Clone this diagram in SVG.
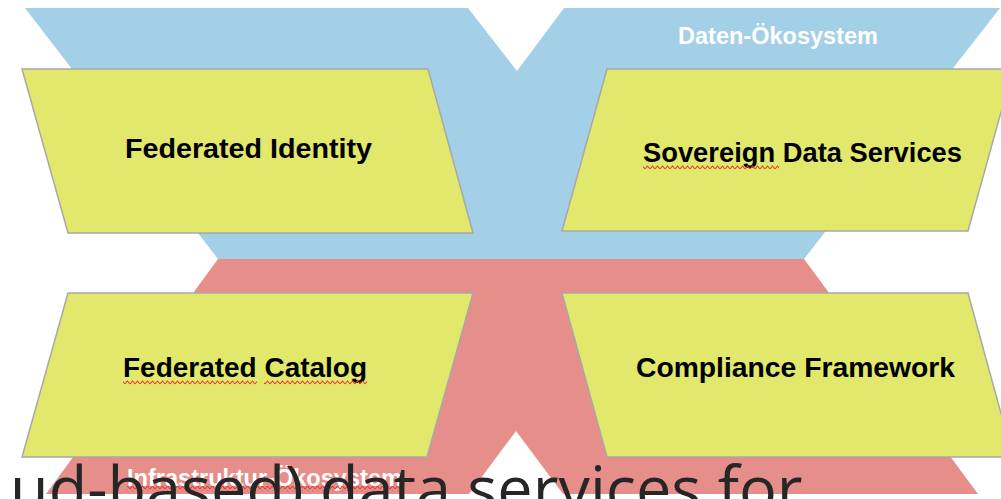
<svg xmlns="http://www.w3.org/2000/svg" width="1001" height="499" viewBox="0 0 1001 499">
  <defs>
    <pattern id="squiggle" patternUnits="userSpaceOnUse" x="0" y="0" width="5" height="5">
      <polyline points="0,4 2.5,1 5,4" fill="none" stroke="#e23a2e" stroke-width="1.1"/>
    </pattern>
  </defs>
  <style>
    .box { fill: #e1e86c; stroke: #a8a8a8; stroke-width: 1.5; }
    .lbl { font-family: "Liberation Sans", Arial, sans-serif; font-weight: bold; font-size: 28px; fill: #000000; }
    .eco { font-family: "Liberation Sans", Arial, sans-serif; font-weight: bold; font-size: 23px; fill: #ffffff; }
    .big { font-family: "Open Sans", "Noto Sans", sans-serif; font-size: 63px; fill: #262626; }
    .sq { fill: url(#squiggle); }
  </style>

  <g id="background">
    <polygon id="daten-eco" points="25,8 468,8 517,71 564,8 1000,8 804,259 218,259" fill="#a3cfe7"/>
    <polygon id="infra-eco" points="218,259 804,259 978,494 563,494 516,431 469,494 46,494" fill="#e58e8a"/>
    <text class="eco" x="678" y="44" textLength="200" lengthAdjust="spacingAndGlyphs">Daten-Ökosystem</text>
  </g>

  <g id="connectors"></g>

  <g id="federated-identity">
    <polygon class="box" points="22,69 428,69 473,233 68,233"/>
    <text class="lbl" x="125" y="158" textLength="247" lengthAdjust="spacingAndGlyphs">Federated Identity</text>
  </g>

  <g id="sovereign-data-services">
    <polygon class="box" points="607,69 1013,69 968,231 562,231"/>
    <text class="lbl" x="643" y="162" textLength="319" lengthAdjust="spacingAndGlyphs">Sovereign Data Services</text>
    <rect class="sq" x="643" y="165" width="136" height="5"/>
  </g>

  <g id="federated-catalog">
    <polygon class="box" points="68,293 473,293 427,457 22,457"/>
    <text class="lbl" x="123" y="377" textLength="244" lengthAdjust="spacingAndGlyphs">Federated Catalog</text>
    <rect class="sq" x="123" y="380" width="134" height="5"/>
    <rect class="sq" x="264" y="380" width="103" height="5"/>
  </g>

  <g id="compliance-framework">
    <polygon class="box" points="562,293 968,293 1013,457 607,457"/>
    <text class="lbl" x="636" y="377" textLength="319" lengthAdjust="spacingAndGlyphs">Compliance Framework</text>
  </g>

  <g id="infra-label">
    <text class="eco" x="127" y="486" textLength="275" lengthAdjust="spacingAndGlyphs">Infrastruktur-Ökosystem</text>
    <rect class="sq" x="127" y="486" width="275" height="5"/>
  </g>

  <g id="caption">
    <text class="big" x="10" y="511">ud-based) data services for</text>
  </g>
</svg>
